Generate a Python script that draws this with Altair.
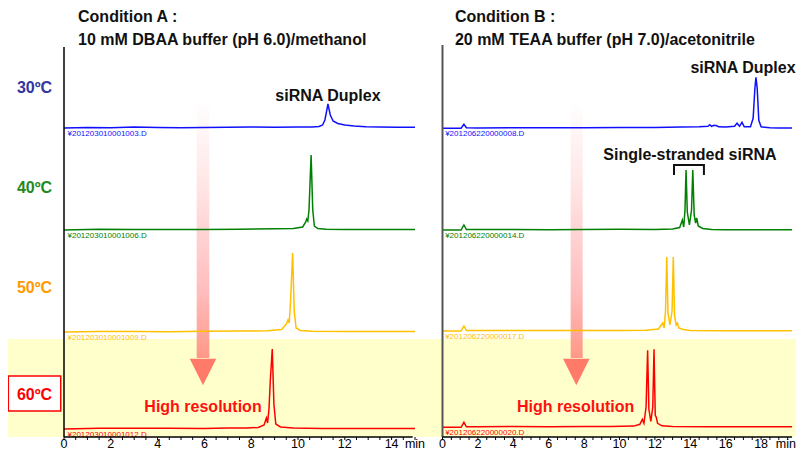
import altair as alt
import pandas as pd

# ---------------- data ----------------
temps = ["30ºC", "40ºC", "50ºC", "60ºC"]
trace_colors = ["#1010ff", "#008000", "#ffc000", "#ff0000"]
label_colors = ["#3535a0", "#1f8a1f", "#ff9a00", "#ff0000"]
baseline_A = [309, 207, 105, 8]
baseline_B = [308.7, 207, 106, 9.7]
files_A = ["¥201203010001003.D", "¥201203010001006.D", "¥201203010001009.D", "¥201203010001012.D"]
files_B = ["¥201206220000008.D", "¥201206220000014.D", "¥201206220000017.D", "¥201206220000020.D"]

# Condition A traces (time in min, signal above baseline)
a30_t = [0, 1.0, 2.0, 3.0, 4.0, 5.0, 6.0, 7.0, 8.0, 9.0, 10.0, 10.6, 10.9, 11.05, 11.15, 11.28, 11.38, 11.5, 11.7, 12.0, 12.4, 12.9, 13.5, 14.2, 15.0]
a30_v = [0, 0.5, 0.3, 1.0, 0.5, 0.3, 0.6, 0.8, 1.0, 0.8, 1.0, 1.0, 1.5, 3, 8, 24, 13, 7, 4.5, 3, 2, 1.2, 1, 0.8, 0.8]
a40_t = [0, 1.5, 3, 4.5, 6, 7.5, 9, 9.8, 10.2, 10.33, 10.37, 10.42, 10.47, 10.56, 10.63, 10.7, 10.85, 11.2, 12, 13, 14, 15]
a40_v = [0, 0.8, 0.5, 0.6, 0.5, 0.8, 1.2, 1.5, 3, 8, 11, 9, 20, 75, 20, 4, 1.5, 0.8, 0.5, 0.5, 0.5, 0.5]
a50_t = [0, 1.5, 3, 4.5, 6, 7.5, 8.7, 9.3, 9.5, 9.57, 9.62, 9.67, 9.77, 9.84, 9.92, 10.1, 10.6, 12, 13.5, 15]
a50_v = [0, 0.5, 0.5, 0.3, 0.8, 1, 1.2, 2.5, 8, 12, 9, 25, 79, 20, 4, 1.5, 0.8, 0.5, 0.5, 0.5]
a60_t = [0, 1.5, 3, 4.5, 6, 7, 7.8, 8.3, 8.55, 8.65, 8.7, 8.76, 8.82, 8.90, 8.97, 9.05, 9.25, 9.8, 11, 13, 15]
a60_v = [0, 0.8, 0.8, 0.8, 0.5, 1, 1, 1.5, 4, 11, 6, 20, 50, 80, 25, 5, 2, 1, 0.5, 0.5, 0.5]

# Condition B traces
b30_t = [0, 1.05, 1.21, 1.35, 2, 4, 6, 8, 10, 12, 13.5, 14.5, 15.0, 15.1, 15.2, 15.35, 15.5, 15.6, 16.0, 16.5, 16.64, 16.78, 16.92, 17.05, 17.4, 17.55, 17.65, 17.71, 17.78, 17.87, 18.0, 18.5, 19.0, 19.75]
b30_v = [0, 0, 4, 0.5, 0.3, 0.5, 0.5, 0.5, 0.8, 0.8, 1.2, 1.5, 2, 3.5, 2, 3, 2.5, 1.5, 1.2, 2, 5, 2, 6, 1.5, 1.5, 10, 40, 51, 40, 8, 1.5, 0.5, 0.3, 0.3]
b40_t = [0, 1.05, 1.21, 1.35, 2, 4, 6, 8, 10, 12, 13.0, 13.4, 13.55, 13.63, 13.7, 13.76, 13.83, 13.95, 14.07, 14.14, 14.22, 14.3, 14.36, 14.45, 14.7, 15.2, 16, 18, 19.75]
b40_v = [0, 0, 5, 0.5, 0.5, 0.5, 0.3, 0.5, 0.8, 0.5, 1, 2.5, 10, 3, 20, 60, 18, 5, 20, 60, 15, 7, 12, 4, 1.5, 0.5, 0.3, 0.3, 0.3]
b50_t = [0, 1.05, 1.21, 1.35, 2, 4, 6, 8, 10, 11.5, 12.2, 12.44, 12.52, 12.6, 12.67, 12.74, 12.85, 12.97, 13.04, 13.11, 13.2, 13.27, 13.35, 13.6, 14, 16, 18, 19.75]
b50_v = [0, 0, 5, 0.5, 0.5, 0.5, 0.5, 0.5, 0.5, 0.8, 2, 8, 3, 20, 74, 18, 6, 20, 74, 15, 6, 8, 3, 1.5, 0.5, 0.3, 0.3, 0.3]
b60_t = [0, 1.05, 1.21, 1.35, 2, 4, 6, 8, 9.5, 10.8, 11.15, 11.29, 11.38, 11.5, 11.59, 11.66, 11.77, 11.88, 11.95, 12.02, 12.08, 12.15, 12.4, 13, 15, 17, 19.75]
b60_v = [0, 0, 5, 0.5, 0.5, 0.8, 0.5, 0.8, 0.8, 1.2, 3, 8, 4, 20, 77, 18, 6, 20, 78, 12, 10, 4, 1.5, 0.8, 0.5, 0.5, 0.5]

# axis ticks and labels
major_A = [0, 2, 4, 6, 8, 10, 12, 14]
major_B = [0, 2, 4, 6, 8, 10, 12, 14, 16, 18]
end_A = 15
end_B = 19.75
unit_label = "min"

# ---------------- tables ----------------
def build(traces, baselines, colors):
    rows = []
    for k, (ts, vs) in enumerate(traces):
        for i, (t, v) in enumerate(zip(ts, vs)):
            rows.append({"trace": temps[k], "t": t, "s": baselines[k] + v, "idx": i, "color": colors[k]})
    return pd.DataFrame(rows)

dfA = build([(a30_t, a30_v), (a40_t, a40_v), (a50_t, a50_v), (a60_t, a60_v)], baseline_A, trace_colors)
dfB = build([(b30_t, b30_v), (b40_t, b40_v), (b50_t, b50_v), (b60_t, b60_v)], baseline_B, trace_colors)

FONT = "Liberation Sans"
domA = [-2.3932, 31.282]
domB = [-24.548, 19.972]
sxA = alt.Scale(domain=domA, nice=False, zero=False)
sxB = alt.Scale(domain=domB, nice=False, zero=False)
sy = alt.Scale(domain=[0, 429], nice=False, zero=False)


def X(sc, field="x"):
    return alt.X(field, type="quantitative", scale=sc, axis=None)


def Y(field="y"):
    return alt.Y(field, type="quantitative", scale=sy, axis=None)


grad = alt.Gradient(gradient="linear",
                    stops=[alt.GradientStop(color="#ffffff", offset=0),
                           alt.GradientStop(color="#ffe4e4", offset=0.35),
                           alt.GradientStop(color="#ffbcbc", offset=0.75),
                           alt.GradientStop(color="#ff9888", offset=1)],
                    x1=0, x2=0, y1=0, y2=1)


def axis_layers(sx, major, end, unit_x, unit_align):
    ticks = [i * 0.5 for i in range(int(end * 2) + 1)]
    tk = alt.Chart(pd.DataFrame({"x": ticks, "y": [0] * len(ticks), "y2": [-3] * len(ticks)})).mark_rule(
        color="black", strokeWidth=1).encode(x=X(sx), y=Y(), y2="y2")
    lab = alt.Chart(pd.DataFrame({"x": major, "y": [-14] * len(major), "text": [str(m) for m in major]})).mark_text(
        font=FONT, fontSize=12.5, align="center", baseline="bottom", color="black").encode(
        x=X(sx), y=Y(), text="text:N")
    unit = alt.Chart(pd.DataFrame([{"x": unit_x, "y": -14, "text": unit_label}])).mark_text(
        font=FONT, fontSize=12.5, align=unit_align, baseline="bottom", color="black").encode(
        x=X(sx), y=Y(), text="text:N")
    return [tk, lab, unit]


def group(df, sx, files, base, axis_color, axis_w, vline_top, hline_end,
          title1, title2, title_x, arrow_x0, arrow_x1, arrow_xc, hr_x):
    lines = alt.Chart(df).mark_line(strokeWidth=1.5, interpolate="linear").encode(
        x=X(sx, "t"), y=Y("s"), detail="trace:N",
        color=alt.Color("color:N", scale=None), order="idx:Q")
    shaft = alt.Chart(pd.DataFrame([{"x": arrow_x0, "x2": arrow_x1, "y": 337, "y2": 79}])).mark_rect(
        color=grad).encode(x=X(sx), x2="x2", y=Y(), y2="y2")
    head = alt.Chart(pd.DataFrame([{"x": arrow_xc, "y": 65}])).mark_point(
        shape="M-1,-1L1,-1L0,1Z", filled=True, size=700, color="#ff7a68", opacity=1).encode(
        x=X(sx), y=Y())
    fl = pd.DataFrame({"x": [0.15] * 4, "y": [b - 5.5 for b in base], "text": files, "color": trace_colors})
    flabels = alt.Chart(fl).mark_text(font=FONT, fontSize=8, align="left", baseline="middle").encode(
        x=X(sx), y=Y(), text="text:N", color=alt.Color("color:N", scale=None))
    vline = alt.Chart(pd.DataFrame([{"x": 0, "y": 0, "y2": vline_top}])).mark_rule(
        color=axis_color, strokeWidth=axis_w).encode(x=X(sx), y=Y(), y2="y2")
    hline = alt.Chart(pd.DataFrame([{"x": 0, "x2": hline_end, "y": 0}])).mark_rule(
        color="black", strokeWidth=1.5).encode(x=X(sx), x2="x2", y=Y())
    titles = alt.Chart(pd.DataFrame({"x": [title_x, title_x], "y": [420, 397], "text": [title1, title2]})).mark_text(
        font=FONT, fontSize=16, fontWeight="bold", align="left", baseline="middle", color="#111111").encode(
        x=X(sx), y=Y(), text="text:N")
    hres = alt.Chart(pd.DataFrame([{"x": hr_x, "y": 30, "text": "High resolution"}])).mark_text(
        font=FONT, fontSize=16, fontWeight="bold", align="center", baseline="middle", color="#ff1010").encode(
        x=X(sx), y=Y(), text="text:N")
    return [shaft, head, lines, flabels, vline, hline, titles, hres]


gA = group(dfA, sxA, files_A, baseline_A, "black", 1.5, 390, 14.9,
           "Condition A :", "10 mM DBAA buffer (pH 6.0)/methanol", 0.6, 5.67, 6.21, 5.94, 5.94)
gB = group(dfB, sxB, files_B, baseline_B, "#555555", 2, 392, end_B,
           "Condition B :", "20 mM TEAA buffer (pH 7.0)/acetonitrile", 0.7, 7.24, 7.92, 7.56, 7.52)

axA = axis_layers(sxA, major_A, end_A, 15, "center")
axB = axis_layers(sxB, major_B, end_B, 19.97, "right")

# extra left-group items: yellow band, temperature labels, 60C box, duplex label
band = alt.Chart(pd.DataFrame([{"x": domA[0], "x2": domA[1], "y": 0, "y2": 98}])).mark_rect(
    color="#ffffcc").encode(x=X(sxA), x2="x2", y=Y(), y2="y2")
tl = pd.DataFrame({"x": [-1.26] * 4, "y": [349, 249, 149, 42], "text": temps, "color": label_colors})
box = alt.Chart(pd.DataFrame([{"x": -2.38, "x2": -0.14, "y": 61, "y2": 26}])).mark_rect(
    fill="white", stroke="#ff0000", strokeWidth=1.5).encode(x=X(sxA), x2="x2", y=Y(), y2="y2")
tlabels = alt.Chart(tl).mark_text(font=FONT, fontSize=16, fontWeight="bold", align="center",
                                  baseline="middle").encode(
    x=X(sxA), y=Y(), text="text:N", color=alt.Color("color:N", scale=None))
dupA = alt.Chart(pd.DataFrame([{"x": 11.28, "y": 341, "text": "siRNA Duplex"}])).mark_text(
    font=FONT, fontSize=16, fontWeight="bold", align="center", baseline="middle", color="#111111").encode(
    x=X(sxA), y=Y(), text="text:N")

dupB = alt.Chart(pd.DataFrame([{"x": 19.95, "y": 369, "text": "siRNA Duplex"}])).mark_text(
    font=FONT, fontSize=16, fontWeight="bold", align="right", baseline="middle", color="#111111").encode(
    x=X(sxB), y=Y(), text="text:N")
ssB = alt.Chart(pd.DataFrame([{"x": 13.98, "y": 282, "text": "Single-stranded siRNA"}])).mark_text(
    font=FONT, fontSize=16, fontWeight="bold", align="center", baseline="middle", color="#111111").encode(
    x=X(sxB), y=Y(), text="text:N")
bracket = alt.Chart(pd.DataFrame({"x": [13.08, 13.08, 14.77, 14.77], "y": [262, 272, 272, 262], "o": [0, 1, 2, 3]})).mark_line(
    color="#111111", strokeWidth=2).encode(x=X(sxB), y=Y(), order="o:Q")

left = alt.layer(band, *gA, box, tlabels, dupA, *axA)
right = alt.layer(*gB, dupB, ssB, bracket, *axB)

chart = alt.layer(left, right).resolve_scale(x="independent").properties(
    width=788, height=429, autosize=alt.AutoSizeParams(type="none"),
    padding={"left": 0, "top": 0, "right": 0, "bottom": 14}, background="white"
).configure_view(strokeWidth=0)

chart.save("out.html", embed_options={"renderer": "svg", "actions": False})
